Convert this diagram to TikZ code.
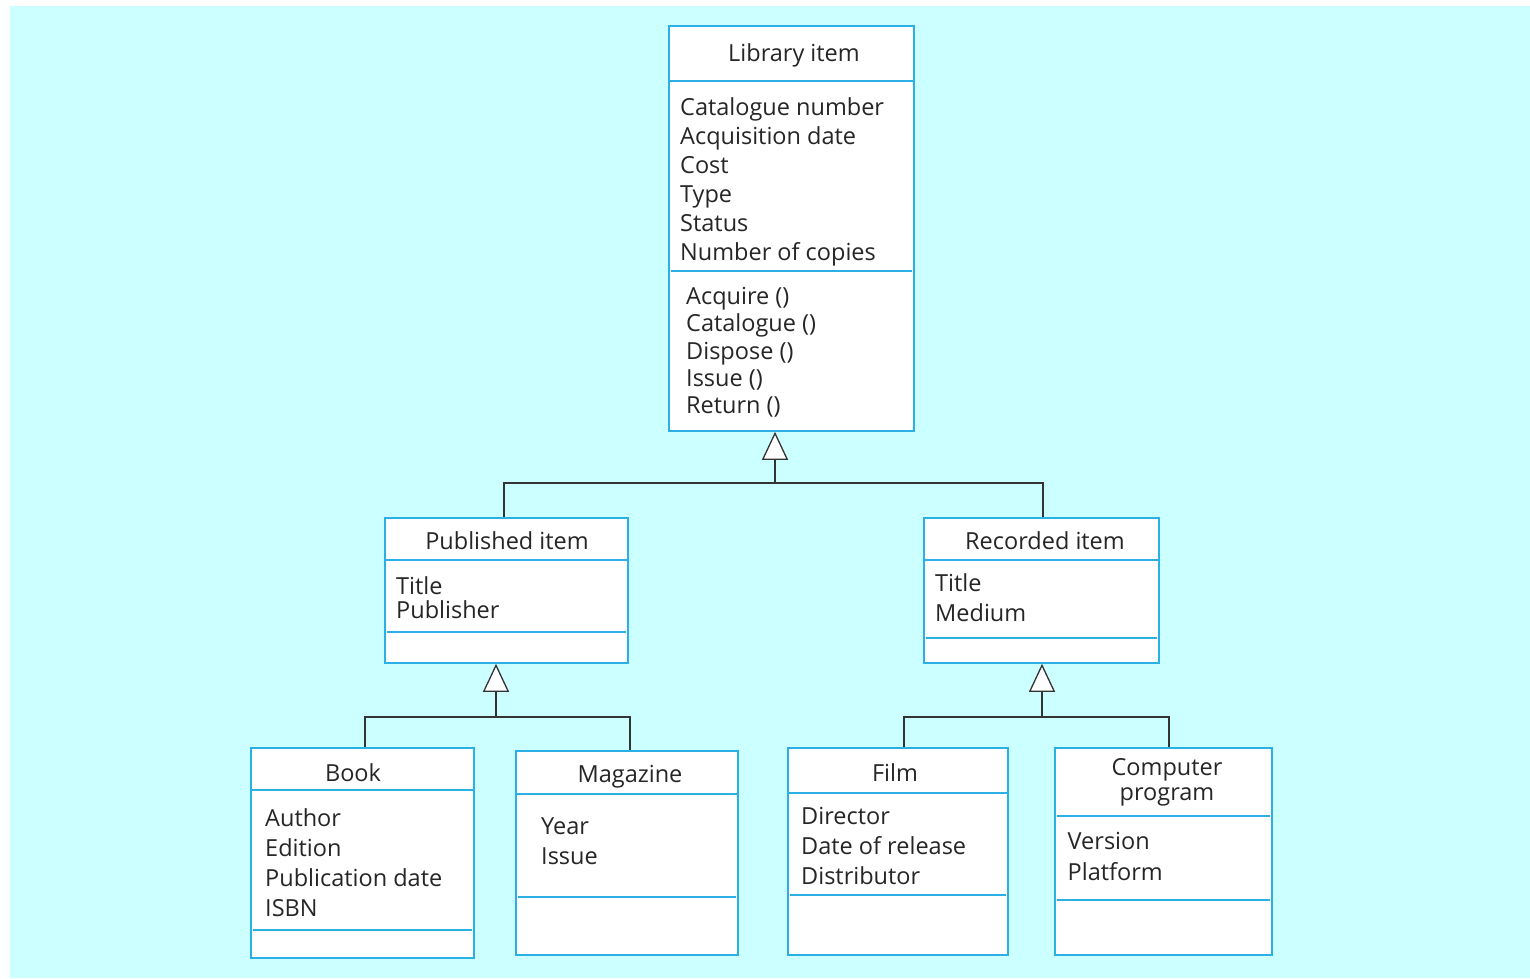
\documentclass[tikz,border=0pt]{standalone}
\usepackage{fontspec}
\setmainfont{Open Sans}
\usetikzlibrary{positioning}
\usetikzlibrary{arrows.meta}

\definecolor{bgcyan}{HTML}{CCFFFF}
\definecolor{boxblue}{HTML}{2BB0E6}
\definecolor{linegray}{HTML}{333333}

\tikzset{
  classbox/.style={draw=boxblue, line width=1.6pt, fill=white, inner sep=0pt},
  sepline/.style={boxblue, line width=1.6pt},
  head/.style={anchor=base, inner sep=0pt, align=center, text=black!85, font=\fontsize{23.5}{24.5}\selectfont},
  attrs/.style={anchor=base west, inner sep=0pt, align=left, text=black!85, font=\fontsize{23.5}{#1}\selectfont},
  link/.style={draw=linegray, line width=1.3pt},
  inherit/.style={link, -{Triangle[length=28pt, width=26pt, fill=white]}},
}

\begin{document}
\begin{tikzpicture}[x=1pt, y=-1pt]
\useasboundingbox (0,0) rectangle (1530,978);
\fill[bgcyan] (10,6) rectangle (1530,978);

% class boxes
\node (lib) [classbox, minimum width=245pt, minimum height=405pt] at (791.5, 228.5) {};
\node (pub) [classbox, minimum width=243pt, minimum height=145pt] at (506.5, 590.5) {};
\node (rec) [classbox, minimum width=235pt, minimum height=145pt] at (1041.5, 590.5) {};
\node (book) [classbox, minimum width=223pt, minimum height=210pt] at (362.5, 853) {};
\node (mag) [classbox, minimum width=222pt, minimum height=204pt] at (627, 853) {};
\node (film) [classbox, minimum width=220pt, minimum height=207pt] at (898, 851.5) {};
\node (prog) [classbox, minimum width=217pt, minimum height=207pt] at (1163.5, 851.5) {};

% compartments
\draw[sepline] (lib.west |- 0,81) -- (lib.east |- 0,81);
\draw[sepline] ([xshift=3pt]lib.west |- 0,271) -- ([xshift=-3pt]lib.east |- 0,271);
\draw[sepline] (pub.west |- 0,560) -- (pub.east |- 0,560);
\draw[sepline] ([xshift=3pt]pub.west |- 0,632) -- ([xshift=-3pt]pub.east |- 0,632);
\draw[sepline] (rec.west |- 0,560) -- (rec.east |- 0,560);
\draw[sepline] ([xshift=3pt]rec.west |- 0,638) -- ([xshift=-3pt]rec.east |- 0,638);
\draw[sepline] (book.west |- 0,790) -- (book.east |- 0,790);
\draw[sepline] ([xshift=3pt]book.west |- 0,930) -- ([xshift=-3pt]book.east |- 0,930);
\draw[sepline] (mag.west |- 0,794) -- (mag.east |- 0,794);
\draw[sepline] ([xshift=3pt]mag.west |- 0,897) -- ([xshift=-3pt]mag.east |- 0,897);
\draw[sepline] (film.west |- 0,793) -- (film.east |- 0,793);
\draw[sepline] ([xshift=3pt]film.west |- 0,895) -- ([xshift=-3pt]film.east |- 0,895);
\draw[sepline] ([xshift=3pt]prog.west |- 0,816) -- ([xshift=-3pt]prog.east |- 0,816);
\draw[sepline] ([xshift=3pt]prog.west |- 0,900) -- ([xshift=-3pt]prog.east |- 0,900);

% texts (multi-line nodes sit on their last baseline)
\node (libname) [head] at (794, 61) {Library item};
\node (libattr) [attrs=29] at (680, 260.5) {Catalogue number\\Acquisition date\\Cost\\Type\\Status\\Number of copies};
\node (libops) [attrs=27.25] at (686, 413.5) {Acquire ()\\Catalogue ()\\Dispose ()\\Issue ()\\Return ()};

\node (pubname) [head] at (507, 549) {Published item};
\node (pubattr) [attrs=24] at (396, 618.3) {Title\\Publisher};

\node (recname) [head] at (1045, 549) {Recorded item};
\node (recattr) [attrs=30] at (935, 621.5) {Title\\Medium};

\node (bookname) [head] at (353, 781) {Book};
\node (bookattr) [attrs=30] at (265, 916.5) {Author\\Edition\\Publication date\\ISBN};

\node (magname) [head] at (630, 782) {Magazine};
\node (magattr) [attrs=30] at (541, 864.5) {Year\\Issue};

\node (filmname) [head] at (895, 781) {Film};
\node (filmattr) [attrs=30] at (801, 884.5) {Director\\Date of release\\Distributor};

\node (progname) [head] at (1167, 800.2) {Computer\\program};
\node (progattr) [attrs=31] at (1067.5, 880.3) {Version\\Platform};

% generalisation
\coordinate (libj) at (775, 483);
\coordinate (pubj) at (496, 717);
\coordinate (recj) at (1042, 717);

\draw[inherit] ([xshift=-2.5pt]pub.north) |- (libj) -- (libj |- lib.south);
\draw[link] ([xshift=1.5pt]rec.north) |- (libj);

\draw[inherit] ([xshift=2.5pt]book.north) |- (pubj) -- (pubj |- pub.south);
\draw[link] ([xshift=3pt]mag.north) |- (pubj);

\draw[inherit] ([xshift=6pt]film.north) |- (recj) -- (recj |- rec.south);
\draw[link] ([xshift=5.5pt]prog.north) |- (recj);
\end{tikzpicture}
\end{document}
